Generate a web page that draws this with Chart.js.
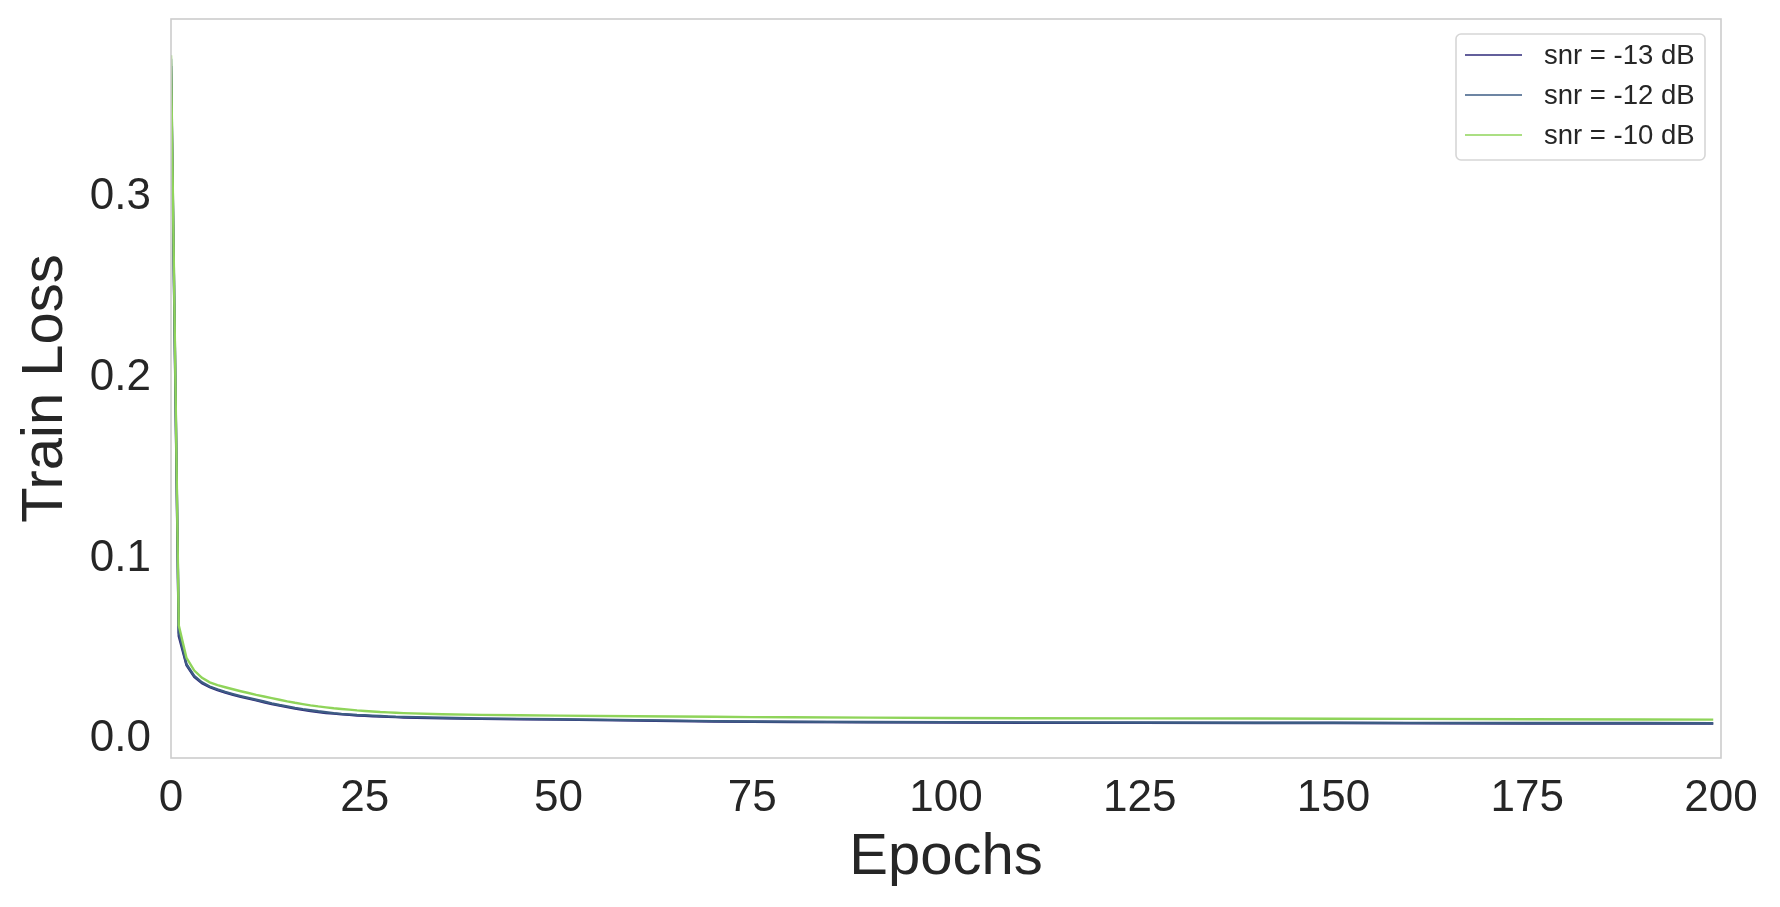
<!DOCTYPE html>
<html>
<head>
<meta charset="utf-8">
<script src="https://cdn.jsdelivr.net/npm/chart.js@4.4.1/dist/chart.umd.min.js"></script>
<style>
  html, body { margin: 0; padding: 0; background: #ffffff; }
  #wrap { width: 1780px; height: 907px; position: relative; }
</style>
</head>
<body>
<div id="wrap"><canvas id="c"></canvas></div>
<script>
// ---- data ----
const epochs = [0,1,2,3,4,5,6,7,8,9,10,11,12,13,14,15,16,17,18,19,20,21,22,23,24,25,26,27,28,29,30,
                35,40,45,50,60,70,75,80,90,100,110,125,140,150,160,175,190,199];
const lossSnrM13 = [0.372,0.057,0.041,0.0345,0.031,0.0288,0.0272,0.0258,0.0246,0.0235,0.0225,0.0215,0.0205,0.0195,0.0186,0.0178,0.0170,0.0163,0.0157,0.0151,0.0146,0.0142,0.0138,0.0135,0.0132,0.0130,0.0128,0.0126,0.0124,0.0123,0.0121,
                    0.0116,0.0113,0.0111,0.0109,0.0104,0.0099,0.0097,0.0096,0.0094,0.0093,0.0092,0.0091,0.0090,0.0090,0.0089,0.0088,0.0088,0.0087];
const lossSnrM12 = [0.376,0.059,0.0415,0.035,0.0315,0.0292,0.0276,0.0262,0.0250,0.0239,0.0229,0.0219,0.0209,0.0199,0.0190,0.0182,0.0174,0.0167,0.0161,0.0155,0.0150,0.0145,0.0141,0.0138,0.0135,0.0133,0.0131,0.0129,0.0127,0.0125,0.0124,
                    0.0119,0.0115,0.0113,0.0111,0.0106,0.0101,0.0099,0.0098,0.0096,0.0095,0.0094,0.0093,0.0092,0.0092,0.0091,0.0090,0.0090,0.0089];
const lossSnrM10 = [0.378,0.063,0.045,0.038,0.034,0.0315,0.0300,0.0288,0.0277,0.0266,0.0256,0.0246,0.0237,0.0228,0.0219,0.0210,0.0202,0.0195,0.0188,0.0182,0.0177,0.0172,0.0168,0.0164,0.0160,0.0157,0.0154,0.0151,0.0149,0.0147,0.0145,
                    0.0139,0.0135,0.0133,0.0131,0.0128,0.0125,0.0123,0.0122,0.0120,0.0118,0.0117,0.0116,0.0115,0.0114,0.0113,0.0111,0.0110,0.0109];
const seriesLabels = ['snr = -13 dB', 'snr = -12 dB', 'snr = -10 dB'];
const seriesColors = ['#2f2a7a', '#3d5c84', '#8fd45a'];
const xTicks = [0, 25, 50, 75, 100, 125, 150, 175, 200];
const yTicks = [0.0, 0.1, 0.2, 0.3];
const xTitle = 'Epochs';
const yTitle = 'Train Loss';

const FONT = "'Liberation Sans', Arial, Helvetica, sans-serif";
const TEXT = '#262626';

function pts(vals) { return epochs.map((e, i) => ({ x: e, y: vals[i] })); }

const allSeries = [lossSnrM13, lossSnrM12, lossSnrM10];
const datasets = allSeries.map((vals, i) => ({
  label: seriesLabels[i],
  data: pts(vals),
  borderColor: seriesColors[i],
  backgroundColor: seriesColors[i],
  borderWidth: 2.4,
  pointRadius: 0,
  tension: 0,
  fill: false,
  order: 2 - i
}));

const framePlugin = {
  id: 'frame',
  afterDraw(chart) {
    const { ctx, chartArea: a } = chart;
    ctx.save();
    ctx.strokeStyle = '#cccccc';
    ctx.lineWidth = 1.6;
    ctx.strokeRect(a.left, a.top, a.right - a.left, a.bottom - a.top);

    // legend box
    const w = 249, h = 126;
    const x0 = a.right - 16 - w, y0 = a.top + 15;
    const r = 5;
    ctx.beginPath();
    ctx.moveTo(x0 + r, y0);
    ctx.arcTo(x0 + w, y0, x0 + w, y0 + h, r);
    ctx.arcTo(x0 + w, y0 + h, x0, y0 + h, r);
    ctx.arcTo(x0, y0 + h, x0, y0, r);
    ctx.arcTo(x0, y0, x0 + w, y0, r);
    ctx.closePath();
    ctx.fillStyle = 'rgba(255,255,255,0.85)';
    ctx.fill();
    ctx.strokeStyle = '#d6d6d6';
    ctx.lineWidth = 1.6;
    ctx.stroke();

    ctx.font = '27.5px ' + FONT;
    ctx.textBaseline = 'middle';
    ctx.textAlign = 'left';
    chart.data.datasets.forEach((ds, i) => {
      const yy = y0 + 21 + i * 40;
      ctx.strokeStyle = ds.borderColor;
      ctx.lineWidth = 1.5;
      ctx.beginPath();
      ctx.moveTo(x0 + 9, yy);
      ctx.lineTo(x0 + 66, yy);
      ctx.stroke();
      ctx.fillStyle = TEXT;
      ctx.fillText(ds.label, x0 + 88, yy + 1);
    });
    ctx.restore();
  }
};

new Chart(document.getElementById('c'), {
  type: 'line',
  data: { datasets },
  options: {
    responsive: true,
    maintainAspectRatio: false,
    animation: false,
    layout: { padding: { top: 19, right: 59, left: 0, bottom: 0 } },
    plugins: {
      legend: { display: false },
      tooltip: { enabled: false }
    },
    scales: {
      x: {
        type: 'linear',
        min: 0, max: 200,
        grid: { display: false, drawTicks: false },
        border: { display: false },
        afterFit(s) { s.height = 149; s.paddingLeft = 0; s.paddingRight = 0; },
        afterBuildTicks(s) { s.ticks = xTicks.map(v => ({ value: v })); },
        ticks: {
          color: TEXT,
          font: { family: FONT, size: 44 },
          padding: 14,
          maxRotation: 0,
          autoSkip: false,
          callback: v => String(v)
        },
        title: {
          display: true, text: xTitle, color: TEXT,
          font: { family: FONT, size: 58 },
          padding: { top: 0, bottom: 14 }
        }
      },
      y: {
        type: 'linear',
        min: -0.0103, max: 0.398,
        grid: { display: false, drawTicks: false },
        border: { display: false },
        afterFit(s) { s.width = 171; s.paddingTop = 0; s.paddingBottom = 0; },
        afterBuildTicks(s) { s.ticks = yTicks.map(v => ({ value: v })); },
        ticks: {
          color: TEXT,
          font: { family: FONT, size: 44 },
          padding: 20,
          autoSkip: false,
          callback: v => Number(v).toFixed(1)
        },
        title: {
          display: true, text: yTitle, color: TEXT,
          font: { family: FONT, size: 58 },
          padding: { top: 11, bottom: 0 }
        }
      }
    }
  },
  plugins: [framePlugin]
});
</script>
</body>
</html>
